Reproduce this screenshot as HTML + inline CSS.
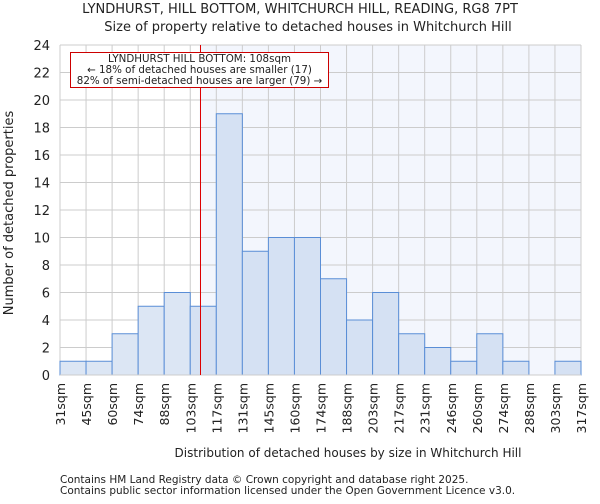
<!DOCTYPE html>
<html><head><meta charset="utf-8"><style>
body{margin:0;background:#fff;font-family:"DejaVu Sans","Liberation Sans",sans-serif;}
svg text{font-family:"DejaVu Sans","Liberation Sans",sans-serif;fill:#222;}
</style></head><body>
<svg width="600" height="500" xmlns="http://www.w3.org/2000/svg">
<text x="300" y="13" text-anchor="middle" font-size="13">LYNDHURST, HILL BOTTOM, WHITCHURCH HILL, READING, RG8 7PT</text>
<text x="308" y="31" text-anchor="middle" font-size="13">Size of property relative to detached houses in Whitchurch Hill</text>
<g id="plot"></g>
<text x="348" y="457" text-anchor="middle" font-size="12">Distribution of detached houses by size in Whitchurch Hill</text>
<text transform="translate(13,213) rotate(-90)" text-anchor="middle" font-size="13">Number of detached properties</text>
<text x="60" y="483" font-size="10.5">Contains HM Land Registry data © Crown copyright and database right 2025.</text>
<text x="60" y="494" font-size="10.5">Contains public sector information licensed under the Open Government Licence v3.0.</text>
</svg>
<script>
const categories=["31sqm","45sqm","60sqm","74sqm","88sqm","103sqm","117sqm","131sqm","145sqm","160sqm","174sqm","188sqm","203sqm","217sqm","231sqm","246sqm","260sqm","274sqm","288sqm","303sqm","317sqm"];
const counts=[1,1,3,5,6,5,19,9,10,10,7,4,6,3,2,1,3,1,0,1];
const yTicks=[0,2,4,6,8,10,12,14,16,18,20,22,24];
const binEdges=[31,45,60,74,88,103,117,131,145,160,174,188,203,217,231,246,260,274,288,303,317];
const marker=108;
const X0=60,X1=581,Y0=375,Y1=45,YMAX=24;
const n=counts.length,bw=(X1-X0)/n;
const xi=i=>X0+i*bw;
const xv=v=>{for(let i=0;i<n;i++){if(v<=binEdges[i+1])return xi(i)+(v-binEdges[i])/(binEdges[i+1]-binEdges[i])*bw;}return X1;};
const y=v=>Y0-(v/YMAX)*(Y0-Y1);
const NS="http://www.w3.org/2000/svg";
const g=document.getElementById('plot');
function mk(t,a){const e=document.createElementNS(NS,t);for(const k in a)e.setAttribute(k,a[k]);g.appendChild(e);return e;}
const mx=xv(marker);
let e=mk('rect',{x:mx,y:Y1,width:X1-mx,height:Y0-Y1,fill:'#f3f6fd'});


yTicks.forEach(t=>{const l=mk('line',{x1:X0,x2:X1,y1:y(t),y2:y(t),stroke:'#ccc','stroke-width':1});


const tx=mk('text',{x:X0-10,y:y(t)+5,'text-anchor':'end','font-size':13});tx.textContent=t;

});
categories.forEach((c,i)=>{const l=mk('line',{x1:xi(i),x2:xi(i),y1:Y1,y2:Y0,stroke:'#ccc','stroke-width':1});


const tx=mk('text',{transform:`translate(${xi(i)+5},${Y0+8}) rotate(-90)`,'text-anchor':'end','font-size':12.5});tx.textContent=c;

});
counts.forEach((v,i)=>{if(v<=0)return;const r=mk('rect',{x:xi(i),y:y(v),width:bw,height:Y0-y(v),fill:xi(i+1)<=mx?'#dce6f4':'#d5e1f3',stroke:'#5a8ed6','stroke-width':1});

});
e=mk('line',{x1:X0,x2:X1,y1:Y0,y2:Y0,stroke:'#ccc'});


const mxr=Math.round(mx)+0.5;
e=mk('line',{x1:mxr,x2:mxr,y1:Y1,y2:Y0,stroke:'#dd0000','stroke-width':1,'shape-rendering':'crispEdges'});


e=mk('rect',{x:70.5,y:52.5,width:258,height:35,fill:'#fff',stroke:'#cc0000','stroke-width':1});


["LYNDHURST HILL BOTTOM: 108sqm","← 18% of detached houses are smaller (17)","82% of semi-detached houses are larger (79) →"].forEach((s,i)=>{const t=mk('text',{x:199.5,y:62+i*11,'text-anchor':'middle','font-size':10.3});t.textContent=s;

});
</script>
</body></html>
